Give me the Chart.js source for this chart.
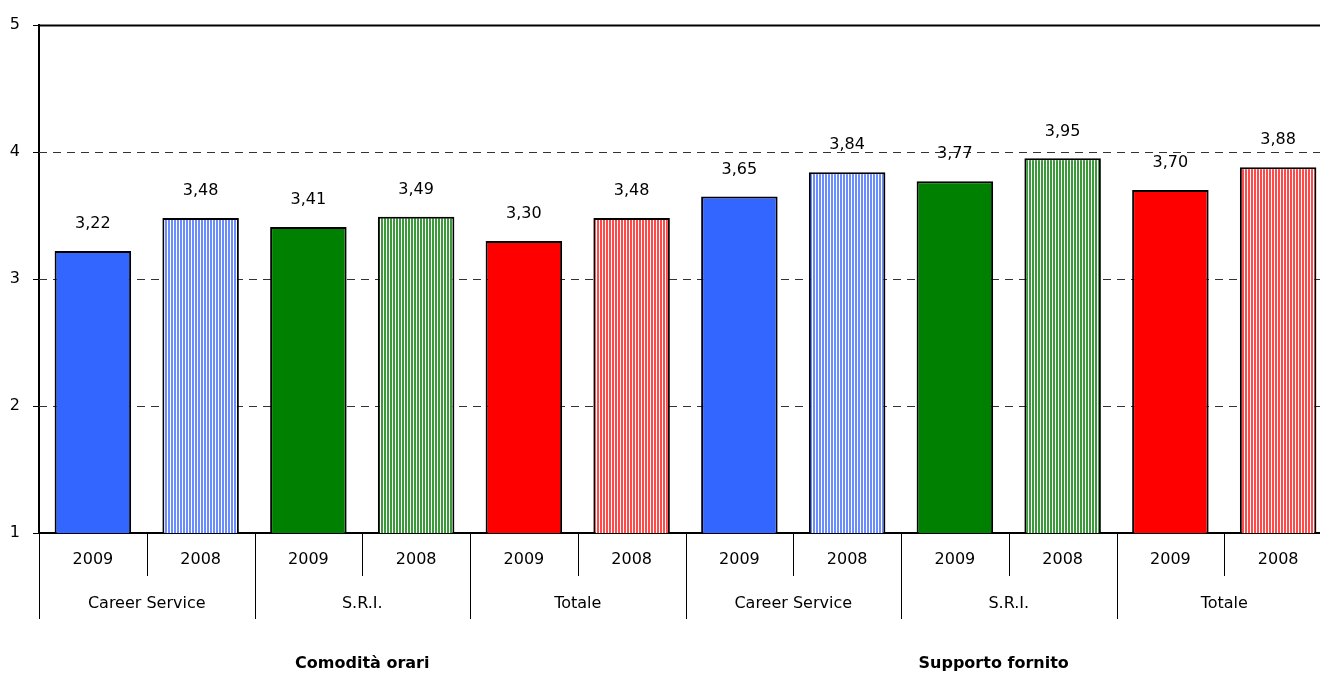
<!DOCTYPE html>
<html>
<head>
<meta charset="utf-8">
<script src="https://cdn.jsdelivr.net/npm/chart.js@4.4.0/dist/chart.umd.min.js"></script>
<style>
  html, body { margin: 0; padding: 0; background: #fff; overflow: hidden; }
  #wrap { position: absolute; left: 0; top: 0; width: 1332px; height: 676px; }
</style>
</head>
<body>
<div id="wrap"><canvas id="chart"></canvas></div>
<script>
// dati
const years = ['2009', '2008', '2009', '2008', '2009', '2008', '2009', '2008', '2009', '2008', '2009', '2008'];
const groups = ['Career Service', 'S.R.I.', 'Totale', 'Career Service', 'S.R.I.', 'Totale'];
const sections = ['Comodità orari', 'Supporto fornito'];
const values = [3.22, 3.48, 3.41, 3.49, 3.30, 3.48, 3.65, 3.84, 3.77, 3.95, 3.70, 3.88];
const yTicks = [1, 2, 3, 4, 5];

const FONT = '"DejaVu Sans", sans-serif';

// barre a righe verticali per il 2008
function stripes(color) {
    const c = document.createElement('canvas');
    c.width = 3; c.height = 4;
    const g = c.getContext('2d');
    g.fillStyle = '#ffffff';
    g.fillRect(0, 0, 3, 4);
    g.fillStyle = color;
    g.fillRect(0, 0, 2, 4);
    return g.createPattern(c, 'repeat');
}

const ctx = document.getElementById('chart').getContext('2d');
const fills = [
    '#3366ff', stripes('#6a8cff'),
    '#008000', stripes('#3a9a3a'),
    '#ff0000', stripes('#ff4a4a'),
    '#3366ff', stripes('#6a8cff'),
    '#008000', stripes('#3a9a3a'),
    '#ff0000', stripes('#ff4a4a')
];

const extras = {
    id: 'extras',
    beforeDatasetsDraw(chart) {
        const c = chart.ctx, a = chart.chartArea, y = chart.scales.y;
        c.save();
        yTicks.forEach(t => {
            const py = Math.round(y.getPixelForValue(t)) + 0.5;
            if (t === 1) return;
            c.beginPath();
            if (t === 5) {
                c.setLineDash([]);
                c.strokeStyle = '#000';
                c.lineWidth = 2;
            } else {
                c.setLineDash([8, 6]);
                c.strokeStyle = '#333';
                c.lineWidth = 1;
            }
            c.moveTo(a.left, py);
            c.lineTo(a.right, py);
            c.stroke();
        });
        c.restore();
    },
    afterDatasetsDraw(chart) {
        const c = chart.ctx, meta = chart.getDatasetMeta(0), x = chart.scales.x, a = chart.chartArea;
        c.save();
        c.fillStyle = '#000';
        c.textAlign = 'center';
        c.textBaseline = 'middle';
        c.font = '16px ' + FONT;
        meta.data.forEach((bar, i) => {
            c.fillText(values[i].toFixed(2).replace('.', ','), bar.x, bar.y - 27);
        });

        // etichette asse x a più livelli
        const half = (x.getPixelForValue(1) - x.getPixelForValue(0)) / 2;
        c.strokeStyle = '#000';
        c.lineWidth = 1;
        years.forEach((yr, i) => {
            c.fillText(yr, x.getPixelForValue(i), a.bottom + 27);
        });
        for (let i = 0; i <= years.length; i++) {
            const px = Math.round(x.getPixelForValue(i) - half) + 0.5;
            const len = i % 2 === 0 ? 86 : 43;
            c.beginPath();
            c.moveTo(px, a.bottom);
            c.lineTo(px, a.bottom + len);
            c.stroke();
        }
        groups.forEach((g, i) => {
            c.fillText(g, x.getPixelForValue(i * 2 + 0.5), a.bottom + 71);
        });
        c.font = 'bold 16px ' + FONT;
        c.fillText(sections[0], x.getPixelForValue(2.5), a.bottom + 131);
        c.fillText(sections[1], x.getPixelForValue(8.36), a.bottom + 131);
        c.restore();
    }
};

new Chart(ctx, {
    type: 'bar',
    data: {
        labels: years,
        datasets: [{
            data: values,
            backgroundColor: fills,
            borderColor: '#000',
            borderWidth: 2,
            borderSkipped: 'bottom',
            barPercentage: 0.71,
            categoryPercentage: 1
        }]
    },
    options: {
        responsive: true,
        maintainAspectRatio: false,
        animation: false,
        layout: { padding: { top: 25, left: 0, right: 0, bottom: 0 } },
        scales: {
            x: {
                grid: { display: false },
                ticks: { display: false },
                border: { display: true, color: '#000', width: 2 },
                afterFit(s) { s.height = 143; }
            },
            y: {
                min: 1,
                max: 5,
                afterBuildTicks(s) { s.ticks = yTicks.map(v => ({ value: v })); },
                grid: { drawOnChartArea: false, drawTicks: true, tickLength: 6, color: '#000' },
                border: { display: true, color: '#000', width: 2 },
                ticks: { color: '#000', padding: 13, font: { size: 16, family: FONT } },
                afterFit(s) { s.width = 39; }
            }
        },
        plugins: {
            legend: { display: false },
            tooltip: { enabled: false }
        }
    },
    plugins: [extras]
});
</script>
</body>
</html>
